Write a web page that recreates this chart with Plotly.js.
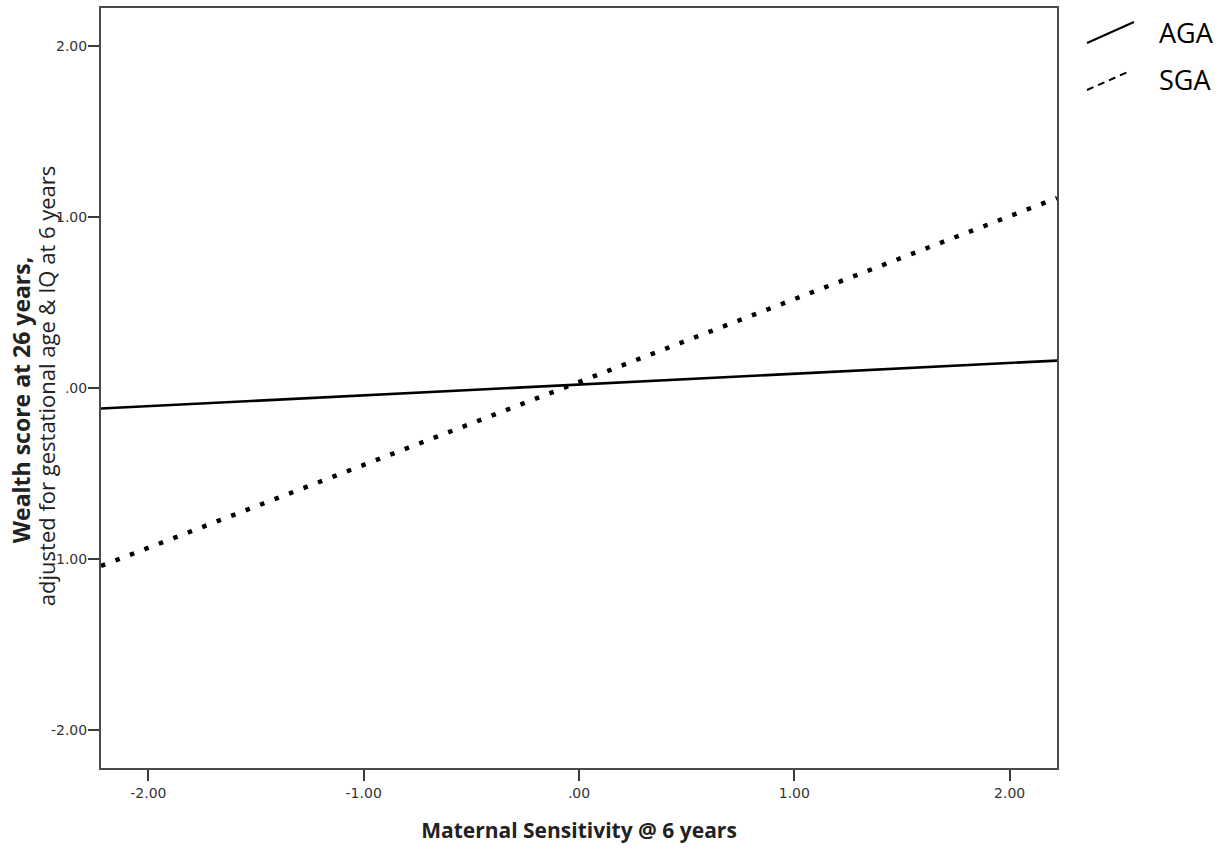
<!DOCTYPE html>
<html>
<head>
<meta charset="utf-8">
<script src="https://cdn.plot.ly/plotly-3.0.1.min.js"></script>
<style>
html,body{margin:0;padding:0;background:#fff;}
#chart{width:1223px;height:849px;}
</style>
</head>
<body>
<div id="chart"></div>
<script>
// Data
var xEnds = [-2.22, 2.22];
var agaY = [-0.12, 0.16];
var sgaY = [-1.04, 1.11];
var tickVals = [-2, -1, 0, 1, 2];
var tickText = ["-2.00", "-1.00", ".00", "1.00", "2.00"];
var seriesNames = ["AGA", "SGA"];
var yTitleMain = "Wealth score at 26 years,";
var yTitleSub = "adjusted for gestational age &amp; IQ at 6 years";
var xTitle = "Maternal Sensitivity @ 6 years";

var axisCommon = {
  range: [-2.22, 2.22],
  tickvals: tickVals,
  ticktext: tickText,
  showgrid: false,
  zeroline: false,
  showline: true,
  mirror: true,
  linecolor: "#4a4a4a",
  linewidth: 2,
  ticks: "outside",
  ticklen: 11,
  tickwidth: 2,
  tickcolor: "#3a3a3a",
  tickfont: {family: "DejaVu Sans", size: 14, color: "#333"},
  automargin: false
};

var traces = [
  {x: xEnds, y: agaY, mode: "lines", name: seriesNames[0],
   line: {color: "#000", width: 2.6}, showlegend: false, hoverinfo: "skip"},
  {x: xEnds, y: sgaY, mode: "lines", name: seriesNames[1],
   line: {color: "#000", width: 4.5, dash: "4.5px,11px"}, showlegend: false, hoverinfo: "skip"}
];

var layout = {
  width: 1223, height: 849,
  margin: {l: 101, r: 166, t: 8, b: 81},
  paper_bgcolor: "#fff", plot_bgcolor: "#fff",
  xaxis: Object.assign({}, axisCommon, {
    title: {text: "<b>" + xTitle + "</b>",
            font: {family: "Open Sans", size: 21, color: "#222"}, standoff: 24}
  }),
  yaxis: Object.assign({}, axisCommon, {ticklabelstandoff: -2}),
  shapes: [
    {type: "line", xref: "paper", yref: "paper", x0: 1.0314, y0: 0.9539, x1: 1.0805, y1: 0.9816,
     line: {color: "#000", width: 2}},
    {type: "line", xref: "paper", yref: "paper", x0: 1.0314, y0: 0.8921, x1: 1.0764, y1: 0.9171,
     line: {color: "#000", width: 2, dash: "7px,5px"}}
  ],
  annotations: [
    {xref: "paper", yref: "paper", x: 1.1046, y: 0.9684, xanchor: "left", yanchor: "middle",
     text: seriesNames[0], showarrow: false, font: {family: "Open Sans", size: 27, color: "#000"}},
    {xref: "paper", yref: "paper", x: 1.1046, y: 0.9053, xanchor: "left", yanchor: "middle",
     text: seriesNames[1], showarrow: false, font: {family: "Open Sans", size: 27, color: "#000"}},
    {xref: "paper", yref: "paper", x: -0.0837, y: 0.484, xanchor: "center", yanchor: "middle",
     textangle: -90, text: "<b>" + yTitleMain + "</b>", showarrow: false,
     font: {family: "Open Sans", size: 23, color: "#222"}},
    {xref: "paper", yref: "paper", x: -0.0581, y: 0.503, xanchor: "center", yanchor: "middle",
     textangle: -90, text: yTitleSub, showarrow: false,
     font: {family: "Open Sans", size: 22, color: "#222"}}
  ]
};

Plotly.newPlot("chart", traces, layout, {staticPlot: true});
</script>
</body>
</html>
